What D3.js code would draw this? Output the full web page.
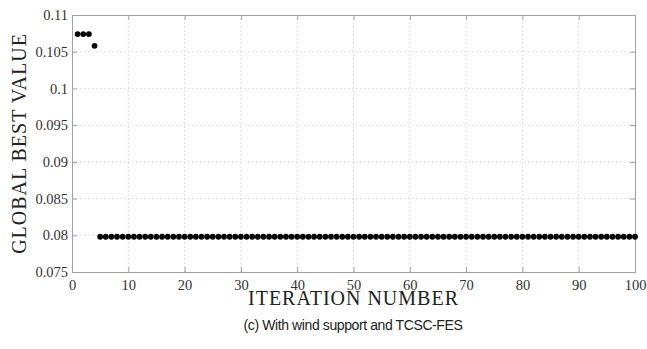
<!DOCTYPE html>
<html>
<head>
<meta charset="utf-8">
<script src="https://cdn.jsdelivr.net/npm/d3@7"></script>
<style>
  html, body { margin: 0; padding: 0; background: #fff; }
  svg { display: block; }
</style>
</head>
<body>
<svg id="chart" width="647" height="349"></svg>
<script>
// Global best value per PSO iteration (iterations 1..100)
const iterations = d3.range(1, 101);
const bestValues = [
  0.1074, 0.1074, 0.1074, 0.1058,                                               // 1-4
  0.0798, 0.0798, 0.0798, 0.0798, 0.0798, 0.0798, 0.0798, 0.0798, 0.0798, 0.0798, // 5-14
  0.0798, 0.0798, 0.0798, 0.0798, 0.0798, 0.0798, 0.0798, 0.0798, 0.0798, 0.0798, // 15-24
  0.0798, 0.0798, 0.0798, 0.0798, 0.0798, 0.0798, 0.0798, 0.0798, 0.0798, 0.0798, // 25-34
  0.0798, 0.0798, 0.0798, 0.0798, 0.0798, 0.0798, 0.0798, 0.0798, 0.0798, 0.0798, // 35-44
  0.0798, 0.0798, 0.0798, 0.0798, 0.0798, 0.0798, 0.0798, 0.0798, 0.0798, 0.0798, // 45-54
  0.0798, 0.0798, 0.0798, 0.0798, 0.0798, 0.0798, 0.0798, 0.0798, 0.0798, 0.0798, // 55-64
  0.0798, 0.0798, 0.0798, 0.0798, 0.0798, 0.0798, 0.0798, 0.0798, 0.0798, 0.0798, // 65-74
  0.0798, 0.0798, 0.0798, 0.0798, 0.0798, 0.0798, 0.0798, 0.0798, 0.0798, 0.0798, // 75-84
  0.0798, 0.0798, 0.0798, 0.0798, 0.0798, 0.0798, 0.0798, 0.0798, 0.0798, 0.0798, // 85-94
  0.0798, 0.0798, 0.0798, 0.0798, 0.0798, 0.0798                                  // 95-100
];
const xTicks = [0, 10, 20, 30, 40, 50, 60, 70, 80, 90, 100];
const yTicks = [0.075, 0.08, 0.085, 0.09, 0.095, 0.1, 0.105, 0.11];
const yTickLabels = ["0.075", "0.08", "0.085", "0.09", "0.095", "0.1", "0.105", "0.11"];
const xTitle = "ITERATION NUMBER";
const yTitle = "GLOBAL BEST VALUE";
const caption = "(c) With wind support and TCSC-FES";

const svg = d3.select("#chart");
const m = { left: 72, right: 12, top: 15, bottom: 77 };
const W = 647, H = 349;
const x = d3.scaleLinear().domain([0, 100]).range([m.left, W - m.right]);
const y = d3.scaleLinear().domain([0.075, 0.11]).range([H - m.bottom, m.top]);

const serif = "'Liberation Serif', 'Times New Roman', serif";
const axisColor = "#a0a0a0";

// dotted grid at interior ticks
const grid = svg.append("g");
grid.selectAll("line.gx").data(xTicks.slice(1, -1)).join("line")
  .attr("x1", d => x(d)).attr("x2", d => x(d))
  .attr("y1", y.range()[0]).attr("y2", y.range()[1])
  .attr("stroke", "#d8d8d8").attr("stroke-dasharray", "1.5,2.5").attr("stroke-width", 1);
grid.selectAll("line.gy").data(yTicks.slice(1, -1)).join("line")
  .attr("y1", d => y(d)).attr("y2", d => y(d))
  .attr("x1", x.range()[0]).attr("x2", x.range()[1])
  .attr("stroke", "#d8d8d8").attr("stroke-dasharray", "1.5,2.5").attr("stroke-width", 1);

// axes with inward ticks
const xAxis = svg.append("g").attr("transform", `translate(0,${y(0.075)})`)
  .call(d3.axisBottom(x).tickValues(xTicks).tickSize(-5).tickPadding(8).tickFormat(d3.format("d")));
const yAxis = svg.append("g").attr("transform", `translate(${x(0)},0)`)
  .call(d3.axisLeft(y).tickValues(yTicks).tickSize(-5).tickPadding(4)
    .tickFormat((d, i) => yTickLabels[i]));
// top and right frame
const xTop = svg.append("g").attr("transform", `translate(0,${y(0.11)})`)
  .call(d3.axisTop(x).tickValues(xTicks).tickSize(-5).tickFormat(""));
const yRight = svg.append("g").attr("transform", `translate(${x(100)},0)`)
  .call(d3.axisRight(y).tickValues(yTicks).tickSize(-5).tickFormat(""));

[xAxis, yAxis, xTop, yRight].forEach(g => {
  g.selectAll("path, line").attr("stroke", axisColor).attr("stroke-width", 1);
  g.selectAll("text").attr("fill", "#333").style("font-family", serif).style("font-size", "14.5px");
});

// markers
svg.append("g").selectAll("circle").data(iterations).join("circle")
  .attr("cx", d => x(d)).attr("cy", (d, i) => y(bestValues[i]))
  .attr("r", 2.9).attr("fill", "#000");

// titles
svg.append("text").attr("x", x(50)).attr("y", 305).attr("text-anchor", "middle")
  .style("font-family", serif).style("font-size", "20px").style("letter-spacing", "1px")
  .attr("fill", "#222").text(xTitle);
svg.append("text").attr("transform", `translate(26,${(y(0.075) + y(0.11)) / 2}) rotate(-90)`)
  .attr("text-anchor", "middle")
  .style("font-family", serif).style("font-size", "20px").style("letter-spacing", "1px")
  .attr("fill", "#222").text(yTitle);
svg.append("text").attr("x", 353).attr("y", 330).attr("text-anchor", "middle")
  .style("font-family", "'Liberation Sans', Arial, sans-serif").style("font-size", "14px")
  .style("letter-spacing", "-0.4px")
  .attr("fill", "#222").text(caption);
</script>
</body>
</html>
